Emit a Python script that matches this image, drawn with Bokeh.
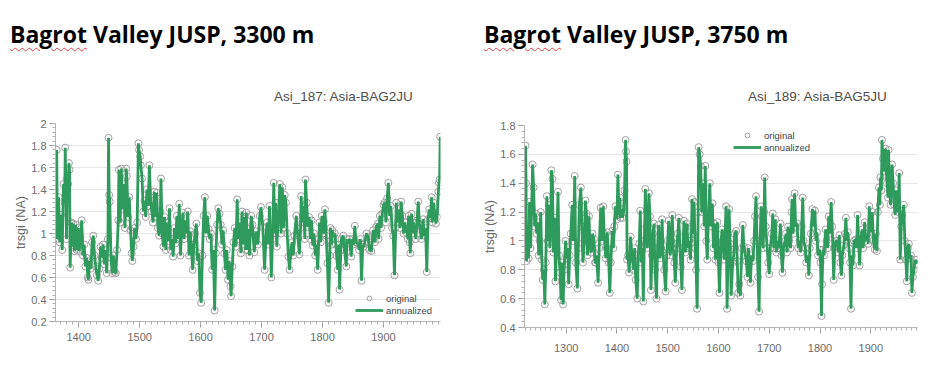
from bokeh.plotting import figure
from bokeh.layouts import row, column
from bokeh.models import (Legend, LegendItem, SingleIntervalTicker, Div,
                          CustomJSTickFormatter, Range1d)
from bokeh.embed import file_html
from bokeh.resources import INLINE

# ---------------- data ----------------
title_left = "Bagrot Valley JUSP, 3300 m"
title_right = "Bagrot Valley JUSP, 3750 m"
sub_left = "Asi_187: Asia-BAG2JU"
sub_right = "Asi_189: Asia-BAG5JU"
y_label = "trsgi (NA)"
legend_labels = ["original", "annualized"]

left_years = [
    1364, 1365, 1367, 1369, 1371, 1373, 1375, 1377, 1378, 1380, 1381, 1383, 1384, 1385, 1386, 1388,
    1390, 1391, 1393, 1395, 1397, 1399, 1401, 1403, 1405, 1407, 1409, 1411, 1413, 1415, 1416, 1418,
    1420, 1422, 1424, 1426, 1428, 1430, 1432, 1434, 1436, 1438, 1440, 1442, 1444, 1446, 1448, 1449,
    1450, 1451, 1453, 1455, 1457, 1459, 1461, 1463, 1465, 1466, 1468, 1470, 1472, 1474, 1476, 1478,
    1479, 1481, 1483, 1485, 1487, 1488, 1490, 1492, 1494, 1496, 1498, 1499, 1501, 1502, 1504, 1506,
    1508, 1510, 1512, 1514, 1516, 1518, 1520, 1522, 1524, 1526, 1528, 1530, 1532, 1534, 1535, 1537,
    1539, 1541, 1543, 1545, 1547, 1549, 1551, 1553, 1555, 1557, 1559, 1561, 1563, 1565, 1567, 1569,
    1571, 1573, 1575, 1577, 1579, 1581, 1583, 1585, 1587, 1589, 1591, 1593, 1595, 1597, 1599, 1601,
    1603, 1605, 1607, 1609, 1611, 1613, 1615, 1617, 1619, 1621, 1623, 1625, 1627, 1629, 1631, 1633,
    1635, 1637, 1639, 1641, 1643, 1645, 1647, 1649, 1650, 1652, 1654, 1656, 1658, 1660, 1662, 1664,
    1666, 1668, 1670, 1672, 1674,
    1675, 1677, 1679, 1680, 1683, 1685, 1688, 1691, 1694, 1697, 1699, 1702, 1705, 1707, 1709, 1711,
    1713, 1716, 1718, 1720, 1722, 1723, 1725, 1727, 1730, 1732, 1734, 1736, 1738, 1740, 1742, 1744,
    1746, 1748, 1750, 1752, 1754, 1757, 1759, 1762, 1764, 1765, 1767, 1769, 1771, 1772, 1774, 1776,
    1778, 1780, 1782, 1784, 1786, 1788, 1790, 1792, 1794, 1795, 1797, 1799, 1801, 1802, 1804, 1806,
    1808, 1810, 1812, 1813, 1815, 1816, 1818, 1820, 1822, 1823, 1825, 1827, 1828, 1830, 1831, 1834,
    1836, 1839, 1840, 1842, 1844, 1847, 1849, 1851, 1853, 1855, 1858, 1860, 1862, 1864, 1866, 1867,
    1869, 1872, 1875, 1877, 1880, 1882, 1883, 1886, 1888, 1891, 1892, 1894, 1896, 1898, 1900, 1902,
    1904, 1906, 1908, 1910, 1912, 1914, 1916, 1918, 1920, 1921, 1923, 1925, 1927, 1929, 1931, 1933,
    1935, 1937, 1938, 1940, 1941, 1943, 1944, 1946, 1948, 1949, 1951, 1953, 1955, 1957, 1959, 1960,
    1962, 1965, 1967, 1969, 1971, 1973, 1975, 1977, 1979, 1980, 1982, 1984, 1986, 1988, 1990, 1991,
    1992, 1993,
]
left_vals = [
    1.76, 0.95, 1.33, 0.92, 1.17, 0.85, 1.45, 1.28, 1.78, 0.95, 1.50, 1.45, 1.64, 1.58, 0.69, 1.10,
    0.88, 1.09, 0.84, 1.08, 0.85, 1.05, 0.84, 0.97, 1.12, 0.80, 0.90, 0.70, 0.78, 0.60, 0.58, 0.75,
    0.68, 0.92, 0.98, 0.80, 0.70, 0.62, 0.57, 0.68, 0.88, 0.78, 0.90, 0.72, 0.85, 0.64, 0.95, 1.87,
    1.35, 1.29, 0.78, 0.64, 0.80, 0.65, 0.64, 0.85, 1.12, 1.58, 1.10, 1.59, 1.22, 1.45, 1.05, 1.59,
    1.52, 1.15, 1.33, 1.03, 0.82, 0.75, 0.88, 1.05, 0.95, 1.10, 1.82, 1.76, 1.70, 1.62, 1.50, 1.20,
    1.30, 1.15, 1.40, 1.25, 1.62, 1.30, 1.20, 1.10, 1.38, 1.15, 1.37, 1.05, 0.98, 1.20, 1.50, 1.00,
    0.88, 1.15, 0.85, 1.10, 0.93, 1.23, 0.85, 0.95, 0.79, 1.05, 0.91, 1.16, 0.95, 1.27, 0.80, 1.05,
    1.19, 0.95, 1.12, 1.00, 1.20, 0.80, 1.02, 0.85, 0.67, 0.90, 1.00, 1.09, 0.75, 0.82, 0.46, 0.37,
    0.80, 1.16, 1.33, 1.00, 1.16, 1.04, 0.95, 1.00, 0.67, 0.85, 0.30, 0.82, 1.08, 1.23, 1.18, 1.08,
    0.90, 1.03, 0.82, 0.67, 0.85, 0.58, 0.75, 0.52, 0.43, 0.70, 0.92, 1.05, 0.88, 1.31, 0.95, 1.10,
    0.82, 1.20, 0.90, 1.15, 0.85,
    1.19, 0.85, 1.04, 0.80, 1.16, 1.08, 0.83, 1.02, 0.90, 1.16, 1.24, 1.06, 0.67, 0.95, 1.10, 0.90,
    1.25, 0.60, 0.95, 1.46, 1.00, 1.28, 0.88, 1.10, 1.45, 1.00, 1.42, 1.05, 1.35, 1.28, 1.00, 0.79,
    0.67, 0.85, 0.92, 0.80, 0.98, 1.16, 1.00, 0.81, 1.05, 1.34, 1.10, 1.25, 0.95, 1.49, 1.28, 1.06,
    1.15, 0.95, 1.12, 0.89, 1.00, 0.80, 0.90, 0.67, 0.95, 1.10, 0.92, 1.16, 1.00, 1.11, 1.22, 0.98,
    0.73, 0.37, 0.80, 1.05, 0.90, 1.03, 0.97, 1.00, 0.90, 0.80, 0.67, 0.90, 0.49, 0.85, 0.95, 0.98,
    0.85, 0.70, 0.95, 0.91, 0.95, 0.79, 0.95, 0.90, 1.07, 0.92, 0.91, 0.85, 0.95, 0.57, 0.90, 0.88,
    0.91, 1.00, 0.97, 0.85, 0.84, 0.95, 1.03, 0.92, 1.06, 1.09, 0.95, 1.16, 1.05, 1.18, 1.26, 1.28,
    1.10, 1.32, 1.46, 1.16, 1.25, 1.05, 0.98, 0.62, 1.05, 1.28, 1.10, 1.22, 1.05, 1.29, 1.16, 1.00,
    1.10, 1.01, 1.04, 0.95, 1.16, 0.92, 0.82, 1.18, 1.00, 1.10, 1.04, 0.95, 1.12, 1.29, 1.08, 1.04,
    0.95, 1.13, 0.98, 1.05, 0.65, 1.13, 1.22, 1.14, 1.33, 1.10, 1.28, 1.19, 1.09, 1.15, 1.38, 1.46,
    1.49, 1.88,
]

right_years = [
    1220, 1221, 1222, 1224, 1226, 1228, 1230, 1232, 1234, 1236, 1238, 1240, 1242, 1244, 1246, 1248,
    1250, 1252, 1254, 1256, 1258, 1260, 1262, 1264, 1266, 1268, 1270, 1271, 1273, 1275, 1277, 1279,
    1281, 1284, 1286, 1288, 1290, 1292, 1294, 1296, 1299, 1301, 1303, 1305, 1307, 1309, 1312, 1314,
    1317, 1319, 1322, 1324, 1326, 1329, 1331, 1333, 1336, 1338, 1340, 1342, 1345, 1347, 1350, 1352,
    1355, 1357, 1358, 1360, 1363, 1365, 1368, 1371, 1373, 1375, 1378, 1380, 1381, 1384, 1386, 1388,
    1391, 1393, 1395, 1397, 1400, 1402, 1404, 1406, 1407, 1409, 1411, 1413, 1415, 1417, 1418, 1419,
    1420, 1422, 1424, 1427, 1430, 1433, 1435, 1437, 1440, 1442, 1444, 1446, 1448, 1450, 1452, 1454,
    1456, 1458, 1460, 1463, 1465, 1467, 1469, 1471, 1473, 1475, 1478, 1480, 1482, 1485, 1487, 1489,
    1491, 1493, 1496, 1498, 1500, 1502, 1505, 1507, 1509, 1511, 1513, 1515, 1518, 1520, 1522, 1524,
    1526, 1528, 1530, 1532, 1535, 1538, 1540, 1542, 1545, 1547, 1548, 1550, 1552, 1554, 1556, 1558,
    1560, 1561, 1563, 1565, 1567, 1570, 1572, 1574, 1576, 1578, 1580, 1583, 1585, 1588, 1590, 1592,
    1594, 1596,
    1598, 1600, 1602, 1605, 1607, 1609, 1611, 1613, 1615, 1617, 1619, 1621, 1623, 1625, 1628, 1630,
    1632, 1635, 1637, 1639, 1641, 1643, 1646, 1648, 1650, 1653, 1655, 1657, 1659, 1661, 1663, 1665,
    1668, 1670, 1672, 1674, 1676, 1678, 1680, 1682, 1684, 1686, 1688, 1690, 1691, 1693, 1696, 1698,
    1700, 1702, 1705, 1707, 1709, 1712, 1714, 1716, 1719, 1722, 1724, 1726, 1728, 1731, 1733, 1735,
    1737, 1739, 1742, 1744, 1745, 1747, 1750, 1752, 1755, 1757, 1760, 1762, 1764, 1766, 1768, 1771,
    1773, 1776, 1778, 1780, 1782, 1785, 1787, 1790, 1792, 1794, 1796, 1799, 1801, 1803, 1804, 1806,
    1808, 1811, 1813, 1815, 1817, 1819, 1822, 1824, 1827, 1829, 1831, 1834, 1836, 1838, 1840, 1842,
    1844, 1847, 1849, 1851, 1853, 1855, 1857, 1859, 1861, 1863, 1865, 1867, 1870, 1872, 1874, 1876,
    1878, 1880, 1883, 1885, 1888, 1890, 1893, 1895, 1897, 1899, 1901, 1903, 1905, 1908, 1910, 1912,
    1914, 1916, 1918, 1919, 1921, 1922, 1924, 1926, 1928, 1929, 1931, 1932, 1934, 1935, 1937, 1939,
    1942, 1944, 1946, 1948, 1950, 1952, 1954, 1956, 1958, 1960, 1962, 1965, 1967, 1969, 1971, 1973,
    1975, 1977, 1979, 1981, 1983, 1985, 1987, 1989, 1991,
]
right_vals = [
    1.66, 1.40, 0.86, 1.02, 0.88, 1.27, 0.95, 1.22, 1.53, 1.37, 1.10, 1.19, 1.05, 1.13, 0.90, 1.00,
    1.20, 0.87, 0.73, 0.80, 0.56, 0.85, 1.31, 1.00, 1.25, 0.95, 1.10, 1.49, 1.43, 0.92, 1.16, 0.72,
    0.95, 1.34, 0.90, 0.78, 0.59, 0.85, 0.56, 0.80, 1.00, 0.88, 0.95, 0.70, 0.90, 1.05, 1.25, 1.00,
    1.45, 0.85, 0.67, 0.95, 1.25, 1.37, 1.10, 0.85, 1.00, 1.28, 1.19, 0.90, 1.17, 0.95, 0.92, 1.05,
    1.01, 0.85, 0.85, 0.90, 0.71, 0.95, 1.23, 1.00, 1.24, 1.05, 0.88, 0.95, 1.06, 0.85, 0.64, 0.85,
    1.07, 0.95, 1.10, 1.24, 1.15, 1.46, 1.18, 1.30, 1.16, 1.22, 1.16, 1.20, 1.35, 1.70, 1.62, 1.55,
    0.87, 0.90, 0.78, 1.03, 0.88, 0.80, 0.95, 0.73, 0.60, 0.90, 0.98, 1.21, 0.85, 0.95, 0.58, 1.00,
    1.36, 1.10, 0.95, 1.33, 1.17, 0.66, 0.90, 1.05, 1.12, 0.80, 0.60, 0.95, 1.11, 0.88, 0.95, 1.15,
    0.92, 0.80, 0.65, 0.90, 1.00, 1.14, 0.90, 1.00, 1.18, 0.95, 0.85, 0.71, 0.98, 1.05, 1.16, 0.95,
    0.82, 0.66, 0.95, 1.14, 0.92, 1.12, 0.95, 1.00, 0.87, 1.10, 1.29, 1.05, 1.27, 0.95, 0.80, 0.53,
    1.20, 1.65, 1.60, 1.52, 1.20, 1.40, 1.10, 1.52, 1.00, 0.87, 1.15, 1.40, 1.10, 1.26, 0.95, 1.12,
    0.87, 1.00,
    1.13, 0.85, 0.64, 0.98, 1.08, 1.00, 0.87, 1.05, 1.24, 0.53, 0.95, 1.22, 0.98, 0.62, 0.85, 0.90,
    1.05, 1.07, 0.86, 0.64, 0.70, 0.62, 0.95, 1.11, 0.96, 0.90, 0.86, 0.75, 0.95, 0.85, 0.71, 0.90,
    0.86, 1.00, 1.17, 1.31, 1.00, 0.75, 0.51, 1.00, 1.24, 1.17, 0.95, 1.20, 1.44, 1.10, 0.95, 0.85,
    0.77, 0.95, 1.05, 1.19, 0.95, 1.15, 0.92, 1.00, 0.95, 1.12, 0.90, 0.78, 0.95, 1.00, 1.05, 0.92,
    1.10, 1.00, 0.95, 1.20, 1.29, 1.05, 1.33, 1.10, 1.12, 0.95, 1.00, 0.92, 1.10, 1.30, 1.00, 0.95,
    0.85, 0.90, 0.76, 0.95, 1.05, 1.22, 1.10, 1.21, 1.00, 1.06, 0.90, 0.94, 0.85, 0.48, 0.70, 0.94,
    0.90, 1.08, 1.00, 0.95, 1.17, 1.05, 1.27, 1.10, 0.73, 0.95, 1.00, 1.00, 0.92, 1.04, 0.85, 0.76,
    0.90, 0.97, 1.05, 1.16, 1.00, 1.06, 0.95, 0.85, 0.53, 0.90, 0.83, 1.00, 1.01, 0.95, 1.18, 1.00,
    0.83, 1.00, 1.08, 0.95, 1.13, 1.00, 1.05, 0.98, 1.24, 1.10, 1.06, 1.20, 1.00, 0.94, 1.05, 0.93,
    1.20, 1.37, 1.25, 1.44, 1.35, 1.70, 1.57, 1.48, 1.60, 1.64, 1.45, 1.40, 1.30, 1.63, 1.35, 1.25,
    1.53, 1.40, 1.25, 1.18, 1.35, 1.28, 1.20, 1.47, 0.87, 1.10, 1.18, 1.25, 1.00, 0.87, 0.72, 0.95,
    0.98, 0.88, 0.90, 0.64, 0.75, 0.80, 0.87, 0.84, 0.87,
]

# ---------------- styling ----------------
GREEN = "#2e9a5c"
CIRCLE = "#a0a0a0"
TICK_TXT = "#6b6b6b"
HEAD_H = 110


def header(title, sub, sub_left):
    first, rest = title.split(" ", 1)
    html = (
        f'<div style="position:relative;width:474px;height:{HEAD_H}px;">'
        f'<span style="position:absolute;left:10px;top:23px;font-family:\'Open Sans\';'
        f'font-weight:bold;font-size:23px;line-height:23px;color:#000;white-space:nowrap;">'
        f'<span style="text-decoration-line:underline;text-decoration-style:wavy;'
        f'text-decoration-color:#e04040;text-decoration-thickness:1px;'
        f'text-underline-offset:4px;">{first}</span> {rest}</span>'
        f'<span style="position:absolute;left:{sub_left}px;top:90px;font-family:\'Liberation Sans\';'
        f'font-size:13.5px;line-height:13.5px;color:#4d4d4d;white-space:nowrap;">{sub}</span>'
        f'</div>'
    )
    return Div(text=html, width=474, height=HEAD_H, margin=0)


def make_panel(years, vals, xr, yr, borders, legend_loc, xlab_standoff, ylab_standoff):
    bl, br, bt, bb = borders
    p = figure(width=474, height=377 - HEAD_H, output_backend="svg", toolbar_location=None,
               x_range=Range1d(*xr), y_range=Range1d(*yr),
               min_border_left=bl, min_border_right=br,
               min_border_top=bt, min_border_bottom=bb, margin=0)
    p.outline_line_color = None
    p.background_fill_color = "white"
    p.border_fill_color = "white"

    c = p.scatter(years, vals, size=7, marker="circle", fill_color=None,
                  line_color=CIRCLE, line_width=1)
    ln = p.line(years, vals, line_color=GREEN, line_width=2.8)

    p.xgrid.visible = False
    p.ygrid.grid_line_color = "#e6e6e6"
    p.ygrid.grid_line_width = 1

    p.xaxis.ticker = SingleIntervalTicker(interval=100, num_minor_ticks=10)
    p.yaxis.ticker = SingleIntervalTicker(interval=0.2, num_minor_ticks=5)
    p.yaxis.formatter = CustomJSTickFormatter(code="return String(Math.round(tick*10)/10)")

    for ax in (p.xaxis, p.yaxis):
        ax.axis_line_color = "#b5b5b5"
        ax.major_tick_line_color = "#9a9a9a"
        ax.minor_tick_line_color = "#b0b0b0"
        ax.major_tick_out = 6
        ax.major_tick_in = 0
        ax.minor_tick_out = 3
        ax.minor_tick_in = 0
        ax.major_label_text_color = TICK_TXT
        ax.major_label_text_font = "Liberation Sans"
        ax.major_label_text_font_size = "11px"
    p.xaxis.major_label_standoff = xlab_standoff
    p.yaxis.major_label_standoff = 3
    p.yaxis.axis_label = y_label
    p.yaxis.axis_label_text_font = "Liberation Sans"
    p.yaxis.axis_label_text_font_style = "normal"
    p.yaxis.axis_label_text_font_size = "12.5px"
    p.yaxis.axis_label_text_color = "#666666"
    p.yaxis.axis_label_standoff = ylab_standoff

    legend = Legend(items=[LegendItem(label=legend_labels[0], renderers=[c]),
                           LegendItem(label=legend_labels[1], renderers=[ln])],
                    location=legend_loc, orientation="vertical",
                    background_fill_alpha=0, border_line_alpha=0,
                    padding=0, margin=0, spacing=0,
                    glyph_width=28, glyph_height=12, label_height=12,
                    label_standoff=3, label_text_font="Liberation Sans",
                    label_text_font_size="9.5px", label_text_color="#444444")
    p.add_layout(legend)
    return p


# left frame: x 55..440, y 123..321 ; right frame: x 524..917, y 125..327 (page px)
p1 = make_panel(left_years, left_vals, (1362, 1993.5), (0.2, 2.0),
                (55, 34, 123 - HEAD_H, 377 - 321), (300, 5), 5, 0)
p2 = make_panel(right_years, right_vals, (1218, 1992), (0.4, 1.8),
                (50, 31, 125 - HEAD_H, 377 - 327), (209, 174), 10, 0)

h1 = header(title_left, sub_left, 274)
h2 = header(title_right, sub_right, 748 - 474)

layout = row(column(h1, p1, spacing=0), column(h2, p2, spacing=0), spacing=0)
open("out.html", "w").write(file_html(layout, INLINE))
